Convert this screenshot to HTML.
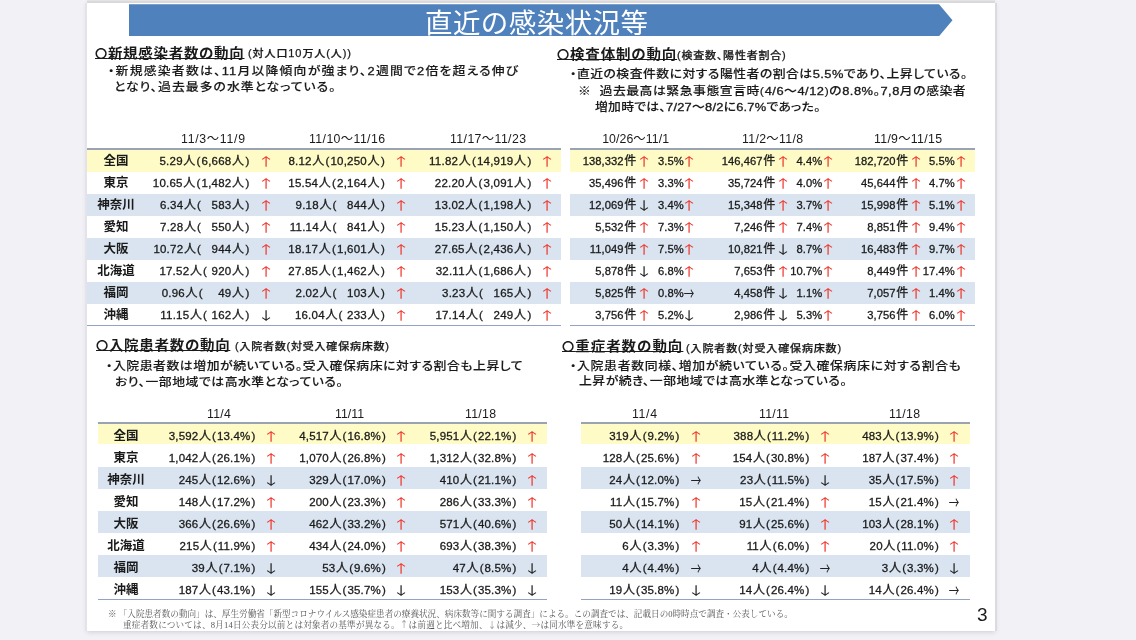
<!DOCTYPE html>
<html lang="ja"><head><meta charset="utf-8"><title>直近の感染状況等</title>
<style>
html,body{margin:0;padding:0}
.t,.v,.lab,.a{filter:blur(.45px)}
body{width:1136px;height:640px;overflow:hidden;background:#f1f1f6;position:relative;font-family:"Liberation Sans","Noto Sans CJK JP",sans-serif;color:#1a1a1a}
#slide{position:absolute;left:87px;top:3px;width:908px;height:627.5px;background:#fff;box-shadow:2px 0 0 0 #dadae0,-2px 0 0 0 #e3e3e9,0 -2.5px 0 0 #d9d9dc,0 1px 5px rgba(60,60,90,.2)}
#ban{position:absolute;left:128.5px;top:4.2px;width:824px;height:32px;background:#4f81bd;clip-path:polygon(0 0,810.5px 0,100% 50%,810.5px 100%,0 100%)}
.t{position:absolute;white-space:nowrap;margin:0;padding:0;transform-origin:0 50%;font-weight:400}
.h,.b,.n{transform:scaleX(1.1)}
.ttl{color:#fff;font-weight:400}
.h{font-weight:700;font-feature-settings:"palt";text-decoration:underline;text-decoration-thickness:1.2px;text-underline-offset:.4px}
.n{font-weight:500;font-feature-settings:"palt";-webkit-text-stroke:.25px #1a1a1a}
.c{font-size:.84em;font-weight:700;position:relative;top:-.3px}
.b{font-weight:500;font-feature-settings:"palt";-webkit-text-stroke:.12px #1a1a1a}
.d{-webkit-text-stroke:.32px #1a1a1a}
.th{font-weight:400}
.f{font-family:"Liberation Serif","Noto Serif CJK SC",serif;color:#555}
.fa{font-family:"Noto Serif CJK SC",serif}
.pg{font-weight:400}
.row{position:absolute}
.yl{background:#fefbc6}
.bl{background:#d9e4f0}
.rule{position:absolute;height:1.7px;background:#9aa3b3;z-index:2}
.rb{height:1.4px;background:#93a3c2}
.lab{position:absolute;width:60px;text-align:center;font-size:12.5px;font-weight:700;white-space:nowrap}
.v{position:absolute;width:120px;text-align:right;font-size:11.5px;white-space:nowrap;letter-spacing:.22px;-webkit-text-stroke:.3px #1a1a1a}
.k{font-size:12px;margin-left:.6px}
.p{margin:0 .9px 0 1px}
.q{margin:0 0 0 1.2px}
.g{display:inline-block;width:9.5px}
.g.d{width:5px}
.g.e{width:3.5px}
.v.t2{font-size:11.2px;letter-spacing:.05px}
.v.t3{letter-spacing:.15px}
.a{position:absolute;width:20px;text-align:center;font-size:17.5px;font-weight:400;font-family:"Noto Sans CJK JP",sans-serif;color:#222;transform:scale(1.04,.66)}
.a.up{color:#f03a30}
.a.rt{transform:scale(.6,.95)}
</style></head>
<body>
<main id="slide"></main>
<header><div id="ban"></div>
<h1 class="t ttl" id="t0" style="left:425.0px;top:5.2px;font-size:27.5px;line-height:38.5px;letter-spacing:0.43px">直近の感染状況等</h1>
</header>
<section id="sec1">
<h2 class="t h" id="t1" style="left:95.0px;top:45.2px;font-size:13.2px;line-height:18.5px;letter-spacing:0.63px"><span class="c">〇</span>新規感染者数の動向</h2>
<span class="t n" id="t2" style="left:248.0px;top:46.5px;font-size:10px;line-height:14.0px;letter-spacing:0.83px">(対人口10万人(人))</span>
<p class="t b" id="t3" style="left:108.2px;top:62.8px;font-size:11.7px;line-height:16.4px;letter-spacing:1.09px">・新規感染者数は、<span class="d">11</span>月以降傾向が強まり、<span class="d">2</span>週間で<span class="d">2</span>倍を超える伸び</p>
<p class="t b" id="t4" style="left:114.0px;top:78.8px;font-size:11.7px;line-height:16.4px;letter-spacing:0.90px">となり、過去最多の水準となっている。</p>
<div class="tbl">
<div class="t th" id="t21" style="left:181.0px;top:130.9px;font-size:12.3px;line-height:17.2px;letter-spacing:0.71px">11/3～11/9</div>
<div class="t th" id="t22" style="left:309.0px;top:130.9px;font-size:12.3px;line-height:17.2px;letter-spacing:0.40px">11/10～11/16</div>
<div class="t th" id="t23" style="left:450.0px;top:130.9px;font-size:12.3px;line-height:17.2px;letter-spacing:0.40px">11/17～11/23</div>
<div class="rule" style="left:87.0px;width:474.0px;top:148.4px"></div>
<div class="rule rb" style="left:87.0px;width:474.0px;top:324.6px"></div>
<div class="row yl" style="left:87.0px;width:474.0px;top:149.8px;height:22.0px"></div>
<span class="lab" style="left:86.0px;top:149.8px;height:22.0px;line-height:22.0px">全国</span>
<span class="v" style="left:129.5px;top:149.8px;height:22.0px;line-height:22.0px">5.29<span class="k">人</span><span class="p">(</span>6,668<span class="k">人</span><span class="q">)</span></span>
<span class="a up" style="left:255.5px;top:149.8px;height:22.0px;line-height:22.0px">↑</span>
<span class="v" style="left:265.0px;top:149.8px;height:22.0px;line-height:22.0px">8.12<span class="k">人</span><span class="p">(</span>10,250<span class="k">人</span><span class="q">)</span></span>
<span class="a up" style="left:390.5px;top:149.8px;height:22.0px;line-height:22.0px">↑</span>
<span class="v" style="left:411.5px;top:149.8px;height:22.0px;line-height:22.0px">11.82<span class="k">人</span><span class="p">(</span>14,919<span class="k">人</span><span class="q">)</span></span>
<span class="a up" style="left:537.0px;top:149.8px;height:22.0px;line-height:22.0px">↑</span>
<span class="lab" style="left:86.0px;top:171.8px;height:22.0px;line-height:22.0px">東京</span>
<span class="v" style="left:129.5px;top:171.8px;height:22.0px;line-height:22.0px">10.65<span class="k">人</span><span class="p">(</span>1,482<span class="k">人</span><span class="q">)</span></span>
<span class="a up" style="left:255.5px;top:171.8px;height:22.0px;line-height:22.0px">↑</span>
<span class="v" style="left:265.0px;top:171.8px;height:22.0px;line-height:22.0px">15.54<span class="k">人</span><span class="p">(</span>2,164<span class="k">人</span><span class="q">)</span></span>
<span class="a up" style="left:390.5px;top:171.8px;height:22.0px;line-height:22.0px">↑</span>
<span class="v" style="left:411.5px;top:171.8px;height:22.0px;line-height:22.0px">22.20<span class="k">人</span><span class="p">(</span>3,091<span class="k">人</span><span class="q">)</span></span>
<span class="a up" style="left:537.0px;top:171.8px;height:22.0px;line-height:22.0px">↑</span>
<div class="row bl" style="left:87.0px;width:474.0px;top:193.8px;height:22.0px"></div>
<span class="lab" style="left:86.0px;top:193.8px;height:22.0px;line-height:22.0px">神奈川</span>
<span class="v" style="left:129.5px;top:193.8px;height:22.0px;line-height:22.0px">6.34<span class="k">人</span><span class="p">(</span><span class="g"></span>583<span class="k">人</span><span class="q">)</span></span>
<span class="a up" style="left:255.5px;top:193.8px;height:22.0px;line-height:22.0px">↑</span>
<span class="v" style="left:265.0px;top:193.8px;height:22.0px;line-height:22.0px">9.18<span class="k">人</span><span class="p">(</span><span class="g"></span>844<span class="k">人</span><span class="q">)</span></span>
<span class="a up" style="left:390.5px;top:193.8px;height:22.0px;line-height:22.0px">↑</span>
<span class="v" style="left:411.5px;top:193.8px;height:22.0px;line-height:22.0px">13.02<span class="k">人</span><span class="p">(</span>1,198<span class="k">人</span><span class="q">)</span></span>
<span class="a up" style="left:537.0px;top:193.8px;height:22.0px;line-height:22.0px">↑</span>
<span class="lab" style="left:86.0px;top:215.8px;height:22.0px;line-height:22.0px">愛知</span>
<span class="v" style="left:129.5px;top:215.8px;height:22.0px;line-height:22.0px">7.28<span class="k">人</span><span class="p">(</span><span class="g"></span>550<span class="k">人</span><span class="q">)</span></span>
<span class="a up" style="left:255.5px;top:215.8px;height:22.0px;line-height:22.0px">↑</span>
<span class="v" style="left:265.0px;top:215.8px;height:22.0px;line-height:22.0px">11.14<span class="k">人</span><span class="p">(</span><span class="g"></span>841<span class="k">人</span><span class="q">)</span></span>
<span class="a up" style="left:390.5px;top:215.8px;height:22.0px;line-height:22.0px">↑</span>
<span class="v" style="left:411.5px;top:215.8px;height:22.0px;line-height:22.0px">15.23<span class="k">人</span><span class="p">(</span>1,150<span class="k">人</span><span class="q">)</span></span>
<span class="a up" style="left:537.0px;top:215.8px;height:22.0px;line-height:22.0px">↑</span>
<div class="row bl" style="left:87.0px;width:474.0px;top:237.8px;height:22.0px"></div>
<span class="lab" style="left:86.0px;top:237.8px;height:22.0px;line-height:22.0px">大阪</span>
<span class="v" style="left:129.5px;top:237.8px;height:22.0px;line-height:22.0px">10.72<span class="k">人</span><span class="p">(</span><span class="g"></span>944<span class="k">人</span><span class="q">)</span></span>
<span class="a up" style="left:255.5px;top:237.8px;height:22.0px;line-height:22.0px">↑</span>
<span class="v" style="left:265.0px;top:237.8px;height:22.0px;line-height:22.0px">18.17<span class="k">人</span><span class="p">(</span>1,601<span class="k">人</span><span class="q">)</span></span>
<span class="a up" style="left:390.5px;top:237.8px;height:22.0px;line-height:22.0px">↑</span>
<span class="v" style="left:411.5px;top:237.8px;height:22.0px;line-height:22.0px">27.65<span class="k">人</span><span class="p">(</span>2,436<span class="k">人</span><span class="q">)</span></span>
<span class="a up" style="left:537.0px;top:237.8px;height:22.0px;line-height:22.0px">↑</span>
<span class="lab" style="left:86.0px;top:259.8px;height:22.0px;line-height:22.0px">北海道</span>
<span class="v" style="left:129.5px;top:259.8px;height:22.0px;line-height:22.0px">17.52<span class="k">人</span><span class="p">(</span><span class="g e"></span>920<span class="k">人</span><span class="q">)</span></span>
<span class="a up" style="left:255.5px;top:259.8px;height:22.0px;line-height:22.0px">↑</span>
<span class="v" style="left:265.0px;top:259.8px;height:22.0px;line-height:22.0px">27.85<span class="k">人</span><span class="p">(</span>1,462<span class="k">人</span><span class="q">)</span></span>
<span class="a up" style="left:390.5px;top:259.8px;height:22.0px;line-height:22.0px">↑</span>
<span class="v" style="left:411.5px;top:259.8px;height:22.0px;line-height:22.0px">32.11<span class="k">人</span><span class="p">(</span>1,686<span class="k">人</span><span class="q">)</span></span>
<span class="a up" style="left:537.0px;top:259.8px;height:22.0px;line-height:22.0px">↑</span>
<div class="row bl" style="left:87.0px;width:474.0px;top:281.8px;height:22.0px"></div>
<span class="lab" style="left:86.0px;top:281.8px;height:22.0px;line-height:22.0px">福岡</span>
<span class="v" style="left:129.5px;top:281.8px;height:22.0px;line-height:22.0px">0.96<span class="k">人</span><span class="p">(</span><span class="g"></span><span class="g d"></span>49<span class="k">人</span><span class="q">)</span></span>
<span class="a up" style="left:255.5px;top:281.8px;height:22.0px;line-height:22.0px">↑</span>
<span class="v" style="left:265.0px;top:281.8px;height:22.0px;line-height:22.0px">2.02<span class="k">人</span><span class="p">(</span><span class="g"></span>103<span class="k">人</span><span class="q">)</span></span>
<span class="a up" style="left:390.5px;top:281.8px;height:22.0px;line-height:22.0px">↑</span>
<span class="v" style="left:411.5px;top:281.8px;height:22.0px;line-height:22.0px">3.23<span class="k">人</span><span class="p">(</span><span class="g"></span>165<span class="k">人</span><span class="q">)</span></span>
<span class="a up" style="left:537.0px;top:281.8px;height:22.0px;line-height:22.0px">↑</span>
<span class="lab" style="left:86.0px;top:303.8px;height:22.0px;line-height:22.0px">沖縄</span>
<span class="v" style="left:129.5px;top:303.8px;height:22.0px;line-height:22.0px">11.15<span class="k">人</span><span class="p">(</span><span class="g e"></span>162<span class="k">人</span><span class="q">)</span></span>
<span class="a" style="left:255.5px;top:303.8px;height:22.0px;line-height:22.0px">↓</span>
<span class="v" style="left:265.0px;top:303.8px;height:22.0px;line-height:22.0px">16.04<span class="k">人</span><span class="p">(</span><span class="g e"></span>233<span class="k">人</span><span class="q">)</span></span>
<span class="a up" style="left:390.5px;top:303.8px;height:22.0px;line-height:22.0px">↑</span>
<span class="v" style="left:411.5px;top:303.8px;height:22.0px;line-height:22.0px">17.14<span class="k">人</span><span class="p">(</span><span class="g"></span>249<span class="k">人</span><span class="q">)</span></span>
<span class="a up" style="left:537.0px;top:303.8px;height:22.0px;line-height:22.0px">↑</span>
</div></section>
<section id="sec2">
<h2 class="t h" id="t5" style="left:557.0px;top:46.2px;font-size:13.2px;line-height:18.5px;letter-spacing:0.75px"><span class="c">〇</span>検査体制の動向</h2>
<span class="t n" id="t6" style="left:677.0px;top:49.0px;font-size:10px;line-height:14.0px;letter-spacing:0.72px">(検査数、陽性者割合)</span>
<p class="t b" id="t7" style="left:570.0px;top:66.3px;font-size:11.7px;line-height:16.4px;letter-spacing:0.42px">・直近の検査件数に対する陽性者の割合は<span class="d">5.5%</span>であり、上昇している。</p>
<p class="t b" id="t8" style="left:578.0px;top:83.3px;font-size:11.7px;line-height:16.4px;letter-spacing:0.46px">※&nbsp;&nbsp;過去最高は緊急事態宣言時(<span class="d">4/6</span>～<span class="d">4/12</span>)の<span class="d">8.8%</span>。<span class="d">7,8</span>月の感染者</p>
<p class="t b" id="t9" style="left:595.0px;top:98.8px;font-size:11.7px;line-height:16.4px;letter-spacing:0.20px">増加時では、<span class="d">7/27</span>～<span class="d">8/2</span>に<span class="d">6.7%</span>であった。</p>
<div class="tbl">
<div class="t th" id="t24" style="left:602.2px;top:130.8px;font-size:12.3px;line-height:17.2px;letter-spacing:0.08px">10/26～11/1</div>
<div class="t th" id="t25" style="left:742.0px;top:130.8px;font-size:12.3px;line-height:17.2px;letter-spacing:0.33px">11/2～11/8</div>
<div class="t th" id="t26" style="left:874.0px;top:130.8px;font-size:12.3px;line-height:17.2px;letter-spacing:0.31px">11/9～11/15</div>
<div class="rule" style="left:570.0px;width:405.0px;top:148.4px"></div>
<div class="rule rb" style="left:570.0px;width:405.0px;top:324.6px"></div>
<div class="row yl" style="left:570.0px;width:405.0px;top:149.8px;height:22.0px"></div>
<span class="v t2" style="left:516.2px;top:149.8px;height:22.0px;line-height:22.0px">138,332<span class="k">件</span></span>
<span class="a up" style="left:633.7px;top:149.8px;height:22.0px;line-height:22.0px">↑</span>
<span class="v t2" style="left:563.8px;top:149.8px;height:22.0px;line-height:22.0px">3.5%</span>
<span class="a up" style="left:678.8px;top:149.8px;height:22.0px;line-height:22.0px">↑</span>
<span class="v t2" style="left:655.2px;top:149.8px;height:22.0px;line-height:22.0px">146,467<span class="k">件</span></span>
<span class="a up" style="left:772.5px;top:149.8px;height:22.0px;line-height:22.0px">↑</span>
<span class="v t2" style="left:702.2px;top:149.8px;height:22.0px;line-height:22.0px">4.4%</span>
<span class="a up" style="left:818.0px;top:149.8px;height:22.0px;line-height:22.0px">↑</span>
<span class="v t2" style="left:788.2px;top:149.8px;height:22.0px;line-height:22.0px">182,720<span class="k">件</span></span>
<span class="a up" style="left:905.5px;top:149.8px;height:22.0px;line-height:22.0px">↑</span>
<span class="v t2" style="left:834.8px;top:149.8px;height:22.0px;line-height:22.0px">5.5%</span>
<span class="a up" style="left:951.0px;top:149.8px;height:22.0px;line-height:22.0px">↑</span>
<span class="v t2" style="left:516.2px;top:171.8px;height:22.0px;line-height:22.0px">35,496<span class="k">件</span></span>
<span class="a up" style="left:633.7px;top:171.8px;height:22.0px;line-height:22.0px">↑</span>
<span class="v t2" style="left:563.8px;top:171.8px;height:22.0px;line-height:22.0px">3.3%</span>
<span class="a up" style="left:678.8px;top:171.8px;height:22.0px;line-height:22.0px">↑</span>
<span class="v t2" style="left:655.2px;top:171.8px;height:22.0px;line-height:22.0px">35,724<span class="k">件</span></span>
<span class="a up" style="left:772.5px;top:171.8px;height:22.0px;line-height:22.0px">↑</span>
<span class="v t2" style="left:702.2px;top:171.8px;height:22.0px;line-height:22.0px">4.0%</span>
<span class="a up" style="left:818.0px;top:171.8px;height:22.0px;line-height:22.0px">↑</span>
<span class="v t2" style="left:788.2px;top:171.8px;height:22.0px;line-height:22.0px">45,644<span class="k">件</span></span>
<span class="a up" style="left:905.5px;top:171.8px;height:22.0px;line-height:22.0px">↑</span>
<span class="v t2" style="left:834.8px;top:171.8px;height:22.0px;line-height:22.0px">4.7%</span>
<span class="a up" style="left:951.0px;top:171.8px;height:22.0px;line-height:22.0px">↑</span>
<div class="row bl" style="left:570.0px;width:405.0px;top:193.8px;height:22.0px"></div>
<span class="v t2" style="left:516.2px;top:193.8px;height:22.0px;line-height:22.0px">12,069<span class="k">件</span></span>
<span class="a" style="left:633.7px;top:193.8px;height:22.0px;line-height:22.0px">↓</span>
<span class="v t2" style="left:563.8px;top:193.8px;height:22.0px;line-height:22.0px">3.4%</span>
<span class="a up" style="left:678.8px;top:193.8px;height:22.0px;line-height:22.0px">↑</span>
<span class="v t2" style="left:655.2px;top:193.8px;height:22.0px;line-height:22.0px">15,348<span class="k">件</span></span>
<span class="a up" style="left:772.5px;top:193.8px;height:22.0px;line-height:22.0px">↑</span>
<span class="v t2" style="left:702.2px;top:193.8px;height:22.0px;line-height:22.0px">3.7%</span>
<span class="a up" style="left:818.0px;top:193.8px;height:22.0px;line-height:22.0px">↑</span>
<span class="v t2" style="left:788.2px;top:193.8px;height:22.0px;line-height:22.0px">15,998<span class="k">件</span></span>
<span class="a up" style="left:905.5px;top:193.8px;height:22.0px;line-height:22.0px">↑</span>
<span class="v t2" style="left:834.8px;top:193.8px;height:22.0px;line-height:22.0px">5.1%</span>
<span class="a up" style="left:951.0px;top:193.8px;height:22.0px;line-height:22.0px">↑</span>
<span class="v t2" style="left:516.2px;top:215.8px;height:22.0px;line-height:22.0px">5,532<span class="k">件</span></span>
<span class="a up" style="left:633.7px;top:215.8px;height:22.0px;line-height:22.0px">↑</span>
<span class="v t2" style="left:563.8px;top:215.8px;height:22.0px;line-height:22.0px">7.3%</span>
<span class="a up" style="left:678.8px;top:215.8px;height:22.0px;line-height:22.0px">↑</span>
<span class="v t2" style="left:655.2px;top:215.8px;height:22.0px;line-height:22.0px">7,246<span class="k">件</span></span>
<span class="a up" style="left:772.5px;top:215.8px;height:22.0px;line-height:22.0px">↑</span>
<span class="v t2" style="left:702.2px;top:215.8px;height:22.0px;line-height:22.0px">7.4%</span>
<span class="a up" style="left:818.0px;top:215.8px;height:22.0px;line-height:22.0px">↑</span>
<span class="v t2" style="left:788.2px;top:215.8px;height:22.0px;line-height:22.0px">8,851<span class="k">件</span></span>
<span class="a up" style="left:905.5px;top:215.8px;height:22.0px;line-height:22.0px">↑</span>
<span class="v t2" style="left:834.8px;top:215.8px;height:22.0px;line-height:22.0px">9.4%</span>
<span class="a up" style="left:951.0px;top:215.8px;height:22.0px;line-height:22.0px">↑</span>
<div class="row bl" style="left:570.0px;width:405.0px;top:237.8px;height:22.0px"></div>
<span class="v t2" style="left:516.2px;top:237.8px;height:22.0px;line-height:22.0px">11,049<span class="k">件</span></span>
<span class="a up" style="left:633.7px;top:237.8px;height:22.0px;line-height:22.0px">↑</span>
<span class="v t2" style="left:563.8px;top:237.8px;height:22.0px;line-height:22.0px">7.5%</span>
<span class="a up" style="left:678.8px;top:237.8px;height:22.0px;line-height:22.0px">↑</span>
<span class="v t2" style="left:655.2px;top:237.8px;height:22.0px;line-height:22.0px">10,821<span class="k">件</span></span>
<span class="a" style="left:772.5px;top:237.8px;height:22.0px;line-height:22.0px">↓</span>
<span class="v t2" style="left:702.2px;top:237.8px;height:22.0px;line-height:22.0px">8.7%</span>
<span class="a up" style="left:818.0px;top:237.8px;height:22.0px;line-height:22.0px">↑</span>
<span class="v t2" style="left:788.2px;top:237.8px;height:22.0px;line-height:22.0px">16,483<span class="k">件</span></span>
<span class="a up" style="left:905.5px;top:237.8px;height:22.0px;line-height:22.0px">↑</span>
<span class="v t2" style="left:834.8px;top:237.8px;height:22.0px;line-height:22.0px">9.7%</span>
<span class="a up" style="left:951.0px;top:237.8px;height:22.0px;line-height:22.0px">↑</span>
<span class="v t2" style="left:516.2px;top:259.8px;height:22.0px;line-height:22.0px">5,878<span class="k">件</span></span>
<span class="a" style="left:633.7px;top:259.8px;height:22.0px;line-height:22.0px">↓</span>
<span class="v t2" style="left:563.8px;top:259.8px;height:22.0px;line-height:22.0px">6.8%</span>
<span class="a up" style="left:678.8px;top:259.8px;height:22.0px;line-height:22.0px">↑</span>
<span class="v t2" style="left:655.2px;top:259.8px;height:22.0px;line-height:22.0px">7,653<span class="k">件</span></span>
<span class="a up" style="left:772.5px;top:259.8px;height:22.0px;line-height:22.0px">↑</span>
<span class="v t2" style="left:702.2px;top:259.8px;height:22.0px;line-height:22.0px">10.7%</span>
<span class="a up" style="left:818.0px;top:259.8px;height:22.0px;line-height:22.0px">↑</span>
<span class="v t2" style="left:788.2px;top:259.8px;height:22.0px;line-height:22.0px">8,449<span class="k">件</span></span>
<span class="a up" style="left:905.5px;top:259.8px;height:22.0px;line-height:22.0px">↑</span>
<span class="v t2" style="left:834.8px;top:259.8px;height:22.0px;line-height:22.0px">17.4%</span>
<span class="a up" style="left:951.0px;top:259.8px;height:22.0px;line-height:22.0px">↑</span>
<div class="row bl" style="left:570.0px;width:405.0px;top:281.8px;height:22.0px"></div>
<span class="v t2" style="left:516.2px;top:281.8px;height:22.0px;line-height:22.0px">5,825<span class="k">件</span></span>
<span class="a up" style="left:633.7px;top:281.8px;height:22.0px;line-height:22.0px">↑</span>
<span class="v t2" style="left:563.8px;top:281.8px;height:22.0px;line-height:22.0px">0.8%</span>
<span class="a rt" style="left:678.8px;top:281.8px;height:22.0px;line-height:22.0px">→</span>
<span class="v t2" style="left:655.2px;top:281.8px;height:22.0px;line-height:22.0px">4,458<span class="k">件</span></span>
<span class="a" style="left:772.5px;top:281.8px;height:22.0px;line-height:22.0px">↓</span>
<span class="v t2" style="left:702.2px;top:281.8px;height:22.0px;line-height:22.0px">1.1%</span>
<span class="a up" style="left:818.0px;top:281.8px;height:22.0px;line-height:22.0px">↑</span>
<span class="v t2" style="left:788.2px;top:281.8px;height:22.0px;line-height:22.0px">7,057<span class="k">件</span></span>
<span class="a up" style="left:905.5px;top:281.8px;height:22.0px;line-height:22.0px">↑</span>
<span class="v t2" style="left:834.8px;top:281.8px;height:22.0px;line-height:22.0px">1.4%</span>
<span class="a up" style="left:951.0px;top:281.8px;height:22.0px;line-height:22.0px">↑</span>
<span class="v t2" style="left:516.2px;top:303.8px;height:22.0px;line-height:22.0px">3,756<span class="k">件</span></span>
<span class="a up" style="left:633.7px;top:303.8px;height:22.0px;line-height:22.0px">↑</span>
<span class="v t2" style="left:563.8px;top:303.8px;height:22.0px;line-height:22.0px">5.2%</span>
<span class="a" style="left:678.8px;top:303.8px;height:22.0px;line-height:22.0px">↓</span>
<span class="v t2" style="left:655.2px;top:303.8px;height:22.0px;line-height:22.0px">2,986<span class="k">件</span></span>
<span class="a" style="left:772.5px;top:303.8px;height:22.0px;line-height:22.0px">↓</span>
<span class="v t2" style="left:702.2px;top:303.8px;height:22.0px;line-height:22.0px">5.3%</span>
<span class="a up" style="left:818.0px;top:303.8px;height:22.0px;line-height:22.0px">↑</span>
<span class="v t2" style="left:788.2px;top:303.8px;height:22.0px;line-height:22.0px">3,756<span class="k">件</span></span>
<span class="a up" style="left:905.5px;top:303.8px;height:22.0px;line-height:22.0px">↑</span>
<span class="v t2" style="left:834.8px;top:303.8px;height:22.0px;line-height:22.0px">6.0%</span>
<span class="a up" style="left:951.0px;top:303.8px;height:22.0px;line-height:22.0px">↑</span>
</div></section>
<section id="sec3">
<h2 class="t h" id="t10" style="left:95.8px;top:336.9px;font-size:13.2px;line-height:18.5px;letter-spacing:0.64px"><span class="c">〇</span>入院患者数の動向</h2>
<span class="t n" id="t11" style="left:235.0px;top:339.5px;font-size:10px;line-height:14.0px;letter-spacing:0.71px">(入院者数(対受入確保病床数)</span>
<p class="t b" id="t12" style="left:106.0px;top:357.8px;font-size:11.7px;line-height:16.4px;letter-spacing:0.48px">・入院患者数は増加が続いている。受入確保病床に対する割合も上昇して</p>
<p class="t b" id="t13" style="left:115.0px;top:373.8px;font-size:11.7px;line-height:16.4px;letter-spacing:0.46px">おり、一部地域では高水準となっている。</p>
<div class="tbl">
<div class="t th" id="t27" style="left:207.0px;top:405.9px;font-size:12.3px;line-height:17.2px;letter-spacing:0.26px">11/4</div>
<div class="t th" id="t28" style="left:335.0px;top:405.9px;font-size:12.3px;line-height:17.2px;letter-spacing:0.01px">11/11</div>
<div class="t th" id="t29" style="left:465.0px;top:405.9px;font-size:12.3px;line-height:17.2px;letter-spacing:0.29px">11/18</div>
<div class="rule" style="left:98.0px;width:448.5px;top:422.4px"></div>
<div class="rule rb" style="left:98.0px;width:448.5px;top:598.6px"></div>
<div class="row yl" style="left:98.0px;width:448.5px;top:423.8px;height:20.7px"></div>
<span class="lab" style="left:96.0px;top:424.5px;height:22.0px;line-height:22.0px">全国</span>
<span class="v t3" style="left:135.5px;top:424.5px;height:22.0px;line-height:22.0px">3,592<span class="k">人</span><span class="p">(</span>13.4%<span class="q">)</span></span>
<span class="a up" style="left:260.5px;top:424.5px;height:22.0px;line-height:22.0px">↑</span>
<span class="v t3" style="left:266.0px;top:424.5px;height:22.0px;line-height:22.0px">4,517<span class="k">人</span><span class="p">(</span>16.8%<span class="q">)</span></span>
<span class="a up" style="left:390.5px;top:424.5px;height:22.0px;line-height:22.0px">↑</span>
<span class="v t3" style="left:396.5px;top:424.5px;height:22.0px;line-height:22.0px">5,951<span class="k">人</span><span class="p">(</span>22.1%<span class="q">)</span></span>
<span class="a up" style="left:521.5px;top:424.5px;height:22.0px;line-height:22.0px">↑</span>
<span class="lab" style="left:96.0px;top:446.5px;height:22.0px;line-height:22.0px">東京</span>
<span class="v t3" style="left:135.5px;top:446.5px;height:22.0px;line-height:22.0px">1,042<span class="k">人</span><span class="p">(</span>26.1%<span class="q">)</span></span>
<span class="a up" style="left:260.5px;top:446.5px;height:22.0px;line-height:22.0px">↑</span>
<span class="v t3" style="left:266.0px;top:446.5px;height:22.0px;line-height:22.0px">1,070<span class="k">人</span><span class="p">(</span>26.8%<span class="q">)</span></span>
<span class="a up" style="left:390.5px;top:446.5px;height:22.0px;line-height:22.0px">↑</span>
<span class="v t3" style="left:396.5px;top:446.5px;height:22.0px;line-height:22.0px">1,312<span class="k">人</span><span class="p">(</span>32.8%<span class="q">)</span></span>
<span class="a up" style="left:521.5px;top:446.5px;height:22.0px;line-height:22.0px">↑</span>
<div class="row bl" style="left:98.0px;width:448.5px;top:466.6px;height:22.1px"></div>
<span class="lab" style="left:96.0px;top:468.5px;height:22.0px;line-height:22.0px">神奈川</span>
<span class="v t3" style="left:135.5px;top:468.5px;height:22.0px;line-height:22.0px">245<span class="k">人</span><span class="p">(</span>12.6%<span class="q">)</span></span>
<span class="a" style="left:260.5px;top:468.5px;height:22.0px;line-height:22.0px">↓</span>
<span class="v t3" style="left:266.0px;top:468.5px;height:22.0px;line-height:22.0px">329<span class="k">人</span><span class="p">(</span>17.0%<span class="q">)</span></span>
<span class="a up" style="left:390.5px;top:468.5px;height:22.0px;line-height:22.0px">↑</span>
<span class="v t3" style="left:396.5px;top:468.5px;height:22.0px;line-height:22.0px">410<span class="k">人</span><span class="p">(</span>21.1%<span class="q">)</span></span>
<span class="a up" style="left:521.5px;top:468.5px;height:22.0px;line-height:22.0px">↑</span>
<span class="lab" style="left:96.0px;top:490.5px;height:22.0px;line-height:22.0px">愛知</span>
<span class="v t3" style="left:135.5px;top:490.5px;height:22.0px;line-height:22.0px">148<span class="k">人</span><span class="p">(</span>17.2%<span class="q">)</span></span>
<span class="a up" style="left:260.5px;top:490.5px;height:22.0px;line-height:22.0px">↑</span>
<span class="v t3" style="left:266.0px;top:490.5px;height:22.0px;line-height:22.0px">200<span class="k">人</span><span class="p">(</span>23.3%<span class="q">)</span></span>
<span class="a up" style="left:390.5px;top:490.5px;height:22.0px;line-height:22.0px">↑</span>
<span class="v t3" style="left:396.5px;top:490.5px;height:22.0px;line-height:22.0px">286<span class="k">人</span><span class="p">(</span>33.3%<span class="q">)</span></span>
<span class="a up" style="left:521.5px;top:490.5px;height:22.0px;line-height:22.0px">↑</span>
<div class="row bl" style="left:98.0px;width:448.5px;top:510.7px;height:22.1px"></div>
<span class="lab" style="left:96.0px;top:512.5px;height:22.0px;line-height:22.0px">大阪</span>
<span class="v t3" style="left:135.5px;top:512.5px;height:22.0px;line-height:22.0px">366<span class="k">人</span><span class="p">(</span>26.6%<span class="q">)</span></span>
<span class="a up" style="left:260.5px;top:512.5px;height:22.0px;line-height:22.0px">↑</span>
<span class="v t3" style="left:266.0px;top:512.5px;height:22.0px;line-height:22.0px">462<span class="k">人</span><span class="p">(</span>33.2%<span class="q">)</span></span>
<span class="a up" style="left:390.5px;top:512.5px;height:22.0px;line-height:22.0px">↑</span>
<span class="v t3" style="left:396.5px;top:512.5px;height:22.0px;line-height:22.0px">571<span class="k">人</span><span class="p">(</span>40.6%<span class="q">)</span></span>
<span class="a up" style="left:521.5px;top:512.5px;height:22.0px;line-height:22.0px">↑</span>
<span class="lab" style="left:96.0px;top:534.5px;height:22.0px;line-height:22.0px">北海道</span>
<span class="v t3" style="left:135.5px;top:534.5px;height:22.0px;line-height:22.0px">215<span class="k">人</span><span class="p">(</span>11.9%<span class="q">)</span></span>
<span class="a up" style="left:260.5px;top:534.5px;height:22.0px;line-height:22.0px">↑</span>
<span class="v t3" style="left:266.0px;top:534.5px;height:22.0px;line-height:22.0px">434<span class="k">人</span><span class="p">(</span>24.0%<span class="q">)</span></span>
<span class="a up" style="left:390.5px;top:534.5px;height:22.0px;line-height:22.0px">↑</span>
<span class="v t3" style="left:396.5px;top:534.5px;height:22.0px;line-height:22.0px">693<span class="k">人</span><span class="p">(</span>38.3%<span class="q">)</span></span>
<span class="a up" style="left:521.5px;top:534.5px;height:22.0px;line-height:22.0px">↑</span>
<div class="row bl" style="left:98.0px;width:448.5px;top:554.9px;height:22.1px"></div>
<span class="lab" style="left:96.0px;top:556.5px;height:22.0px;line-height:22.0px">福岡</span>
<span class="v t3" style="left:135.5px;top:556.5px;height:22.0px;line-height:22.0px">39<span class="k">人</span><span class="p">(</span>7.1%<span class="q">)</span></span>
<span class="a" style="left:260.5px;top:556.5px;height:22.0px;line-height:22.0px">↓</span>
<span class="v t3" style="left:266.0px;top:556.5px;height:22.0px;line-height:22.0px">53<span class="k">人</span><span class="p">(</span>9.6%<span class="q">)</span></span>
<span class="a up" style="left:390.5px;top:556.5px;height:22.0px;line-height:22.0px">↑</span>
<span class="v t3" style="left:396.5px;top:556.5px;height:22.0px;line-height:22.0px">47<span class="k">人</span><span class="p">(</span>8.5%<span class="q">)</span></span>
<span class="a" style="left:521.5px;top:556.5px;height:22.0px;line-height:22.0px">↓</span>
<span class="lab" style="left:96.0px;top:578.5px;height:22.0px;line-height:22.0px">沖縄</span>
<span class="v t3" style="left:135.5px;top:578.5px;height:22.0px;line-height:22.0px">187<span class="k">人</span><span class="p">(</span>43.1%<span class="q">)</span></span>
<span class="a" style="left:260.5px;top:578.5px;height:22.0px;line-height:22.0px">↓</span>
<span class="v t3" style="left:266.0px;top:578.5px;height:22.0px;line-height:22.0px">155<span class="k">人</span><span class="p">(</span>35.7%<span class="q">)</span></span>
<span class="a" style="left:390.5px;top:578.5px;height:22.0px;line-height:22.0px">↓</span>
<span class="v t3" style="left:396.5px;top:578.5px;height:22.0px;line-height:22.0px">153<span class="k">人</span><span class="p">(</span>35.3%<span class="q">)</span></span>
<span class="a" style="left:521.5px;top:578.5px;height:22.0px;line-height:22.0px">↓</span>
</div></section>
<section id="sec4">
<h2 class="t h" id="t14" style="left:562.0px;top:338.2px;font-size:13.2px;line-height:18.5px;letter-spacing:0.89px"><span class="c">〇</span>重症者数の動向</h2>
<span class="t n" id="t15" style="left:686.0px;top:341.5px;font-size:10px;line-height:14.0px;letter-spacing:0.79px">(入院者数(対受入確保病床数)</span>
<p class="t b" id="t16" style="left:570.0px;top:358.3px;font-size:11.7px;line-height:16.4px;letter-spacing:0.60px">・入院患者数同様、増加が続いている。受入確保病床に対する割合も</p>
<p class="t b" id="t17" style="left:579.0px;top:372.8px;font-size:11.7px;line-height:16.4px;letter-spacing:0.44px">上昇が続き、一部地域では高水準となっている。</p>
<div class="tbl">
<div class="t th" id="t30" style="left:632.0px;top:405.9px;font-size:12.3px;line-height:17.2px;letter-spacing:0.66px">11/4</div>
<div class="t th" id="t31" style="left:759.0px;top:405.9px;font-size:12.3px;line-height:17.2px;letter-spacing:0.26px">11/11</div>
<div class="t th" id="t32" style="left:889.0px;top:405.9px;font-size:12.3px;line-height:17.2px;letter-spacing:0.29px">11/18</div>
<div class="rule" style="left:580.5px;width:389.0px;top:422.4px"></div>
<div class="rule rb" style="left:580.5px;width:389.0px;top:598.6px"></div>
<div class="row yl" style="left:580.5px;width:389.0px;top:423.8px;height:20.7px"></div>
<span class="v t3" style="left:559.5px;top:424.5px;height:22.0px;line-height:22.0px">319<span class="k">人</span><span class="p">(</span>9.2%<span class="q">)</span></span>
<span class="a up" style="left:685.5px;top:424.5px;height:22.0px;line-height:22.0px">↑</span>
<span class="v t3" style="left:689.5px;top:424.5px;height:22.0px;line-height:22.0px">388<span class="k">人</span><span class="p">(</span>11.2%<span class="q">)</span></span>
<span class="a up" style="left:814.5px;top:424.5px;height:22.0px;line-height:22.0px">↑</span>
<span class="v t3" style="left:819.0px;top:424.5px;height:22.0px;line-height:22.0px">483<span class="k">人</span><span class="p">(</span>13.9%<span class="q">)</span></span>
<span class="a up" style="left:944.0px;top:424.5px;height:22.0px;line-height:22.0px">↑</span>
<span class="v t3" style="left:559.5px;top:446.5px;height:22.0px;line-height:22.0px">128<span class="k">人</span><span class="p">(</span>25.6%<span class="q">)</span></span>
<span class="a up" style="left:685.5px;top:446.5px;height:22.0px;line-height:22.0px">↑</span>
<span class="v t3" style="left:689.5px;top:446.5px;height:22.0px;line-height:22.0px">154<span class="k">人</span><span class="p">(</span>30.8%<span class="q">)</span></span>
<span class="a up" style="left:814.5px;top:446.5px;height:22.0px;line-height:22.0px">↑</span>
<span class="v t3" style="left:819.0px;top:446.5px;height:22.0px;line-height:22.0px">187<span class="k">人</span><span class="p">(</span>37.4%<span class="q">)</span></span>
<span class="a up" style="left:944.0px;top:446.5px;height:22.0px;line-height:22.0px">↑</span>
<div class="row bl" style="left:580.5px;width:389.0px;top:466.6px;height:22.1px"></div>
<span class="v t3" style="left:559.5px;top:468.5px;height:22.0px;line-height:22.0px">24<span class="k">人</span><span class="p">(</span>12.0%<span class="q">)</span></span>
<span class="a rt" style="left:685.5px;top:468.5px;height:22.0px;line-height:22.0px">→</span>
<span class="v t3" style="left:689.5px;top:468.5px;height:22.0px;line-height:22.0px">23<span class="k">人</span><span class="p">(</span>11.5%<span class="q">)</span></span>
<span class="a" style="left:814.5px;top:468.5px;height:22.0px;line-height:22.0px">↓</span>
<span class="v t3" style="left:819.0px;top:468.5px;height:22.0px;line-height:22.0px">35<span class="k">人</span><span class="p">(</span>17.5%<span class="q">)</span></span>
<span class="a up" style="left:944.0px;top:468.5px;height:22.0px;line-height:22.0px">↑</span>
<span class="v t3" style="left:559.5px;top:490.5px;height:22.0px;line-height:22.0px">11<span class="k">人</span><span class="p">(</span>15.7%<span class="q">)</span></span>
<span class="a up" style="left:685.5px;top:490.5px;height:22.0px;line-height:22.0px">↑</span>
<span class="v t3" style="left:689.5px;top:490.5px;height:22.0px;line-height:22.0px">15<span class="k">人</span><span class="p">(</span>21.4%<span class="q">)</span></span>
<span class="a up" style="left:814.5px;top:490.5px;height:22.0px;line-height:22.0px">↑</span>
<span class="v t3" style="left:819.0px;top:490.5px;height:22.0px;line-height:22.0px">15<span class="k">人</span><span class="p">(</span>21.4%<span class="q">)</span></span>
<span class="a rt" style="left:944.0px;top:490.5px;height:22.0px;line-height:22.0px">→</span>
<div class="row bl" style="left:580.5px;width:389.0px;top:510.7px;height:22.1px"></div>
<span class="v t3" style="left:559.5px;top:512.5px;height:22.0px;line-height:22.0px">50<span class="k">人</span><span class="p">(</span>14.1%<span class="q">)</span></span>
<span class="a up" style="left:685.5px;top:512.5px;height:22.0px;line-height:22.0px">↑</span>
<span class="v t3" style="left:689.5px;top:512.5px;height:22.0px;line-height:22.0px">91<span class="k">人</span><span class="p">(</span>25.6%<span class="q">)</span></span>
<span class="a up" style="left:814.5px;top:512.5px;height:22.0px;line-height:22.0px">↑</span>
<span class="v t3" style="left:819.0px;top:512.5px;height:22.0px;line-height:22.0px">103<span class="k">人</span><span class="p">(</span>28.1%<span class="q">)</span></span>
<span class="a up" style="left:944.0px;top:512.5px;height:22.0px;line-height:22.0px">↑</span>
<span class="v t3" style="left:559.5px;top:534.5px;height:22.0px;line-height:22.0px">6<span class="k">人</span><span class="p">(</span>3.3%<span class="q">)</span></span>
<span class="a up" style="left:685.5px;top:534.5px;height:22.0px;line-height:22.0px">↑</span>
<span class="v t3" style="left:689.5px;top:534.5px;height:22.0px;line-height:22.0px">11<span class="k">人</span><span class="p">(</span>6.0%<span class="q">)</span></span>
<span class="a up" style="left:814.5px;top:534.5px;height:22.0px;line-height:22.0px">↑</span>
<span class="v t3" style="left:819.0px;top:534.5px;height:22.0px;line-height:22.0px">20<span class="k">人</span><span class="p">(</span>11.0%<span class="q">)</span></span>
<span class="a up" style="left:944.0px;top:534.5px;height:22.0px;line-height:22.0px">↑</span>
<div class="row bl" style="left:580.5px;width:389.0px;top:554.9px;height:22.1px"></div>
<span class="v t3" style="left:559.5px;top:556.5px;height:22.0px;line-height:22.0px">4<span class="k">人</span><span class="p">(</span>4.4%<span class="q">)</span></span>
<span class="a rt" style="left:685.5px;top:556.5px;height:22.0px;line-height:22.0px">→</span>
<span class="v t3" style="left:689.5px;top:556.5px;height:22.0px;line-height:22.0px">4<span class="k">人</span><span class="p">(</span>4.4%<span class="q">)</span></span>
<span class="a rt" style="left:814.5px;top:556.5px;height:22.0px;line-height:22.0px">→</span>
<span class="v t3" style="left:819.0px;top:556.5px;height:22.0px;line-height:22.0px">3<span class="k">人</span><span class="p">(</span>3.3%<span class="q">)</span></span>
<span class="a" style="left:944.0px;top:556.5px;height:22.0px;line-height:22.0px">↓</span>
<span class="v t3" style="left:559.5px;top:578.5px;height:22.0px;line-height:22.0px">19<span class="k">人</span><span class="p">(</span>35.8%<span class="q">)</span></span>
<span class="a" style="left:685.5px;top:578.5px;height:22.0px;line-height:22.0px">↓</span>
<span class="v t3" style="left:689.5px;top:578.5px;height:22.0px;line-height:22.0px">14<span class="k">人</span><span class="p">(</span>26.4%<span class="q">)</span></span>
<span class="a" style="left:814.5px;top:578.5px;height:22.0px;line-height:22.0px">↓</span>
<span class="v t3" style="left:819.0px;top:578.5px;height:22.0px;line-height:22.0px">14<span class="k">人</span><span class="p">(</span>26.4%<span class="q">)</span></span>
<span class="a rt" style="left:944.0px;top:578.5px;height:22.0px;line-height:22.0px">→</span>
</div></section>
<footer>
<p class="t f" id="t18" style="left:108.0px;top:607.8px;font-size:8.6px;line-height:12.0px;letter-spacing:0.00px">※ 「入院患者数の動向」は、厚生労働省「新型コロナウイルス感染症患者の療養状況、病床数等に関する調査」による。この調査では、記載日の0時時点で調査・公表している。</p>
<p class="t f" id="t19" style="left:123.0px;top:617.5px;font-size:8.6px;line-height:12.0px;letter-spacing:0.19px">重症者数については、8月14日公表分以前とは対象者の基準が異なる。<span class="fa">↑</span>は前週と比べ増加、<span class="fa">↓</span>は減少、<span class="fa">→</span>は同水準を意味する。</p>
<div class="t pg" id="t20" style="left:977.0px;top:601.7px;font-size:19px;line-height:26.6px">3</div>
</footer>
</body></html>
